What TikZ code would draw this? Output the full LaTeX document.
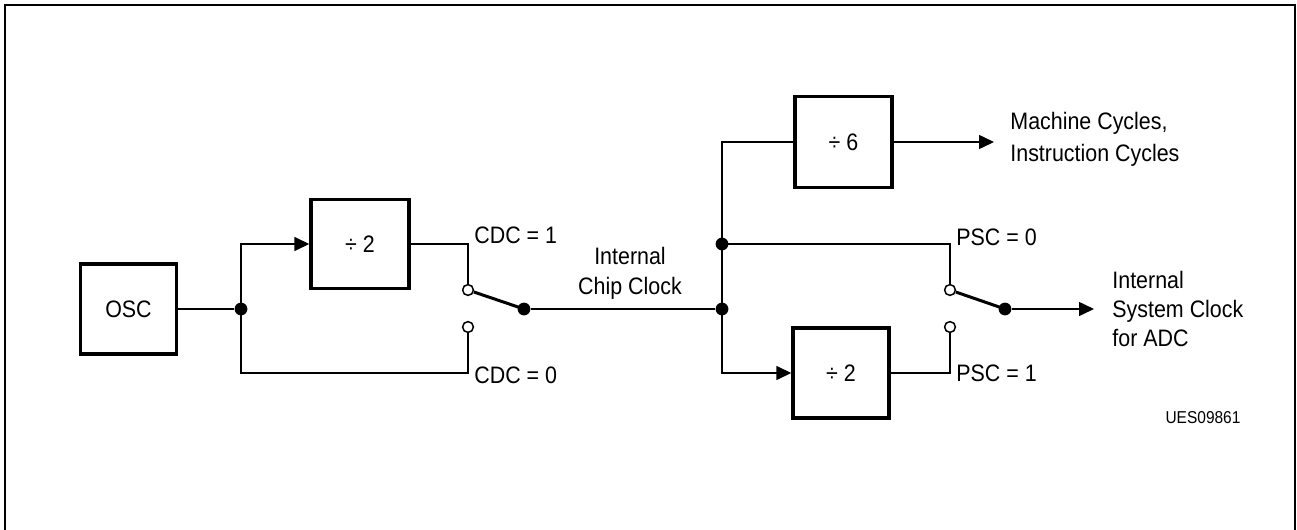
\documentclass[tikz,border=0pt]{standalone}
\usepackage{fontspec}
\setmainfont{Liberation Sans}[FakeStretch=0.9]
\usetikzlibrary{arrows.meta}
\begin{document}
\begin{tikzpicture}[x=0.5pt,y=-0.5pt,
  every node/.style={font=\fontsize{11.9}{15}\selectfont},
  blk/.style={draw,line width=1.7pt,inner sep=0pt},
  wire/.style={line width=0.75pt},
  arr/.style={wire,-{Triangle[length=7.5pt,width=7pt]}},
  jdot/.style={circle,fill,inner sep=0pt,minimum size=6.4pt},
  odot/.style={circle,draw,fill=white,line width=0.75pt,inner sep=0pt,minimum size=5.4pt},
  blade/.style={line width=1.5pt},
  lbl/.style={inner sep=0pt,anchor=west},
  frame/.style={line width=1.4pt}]
\useasboundingbox (0,0) rectangle (1297,530);
\draw[frame] (5,530) -- (5,5) -- (1295,5) -- (1295,530);

% blocks
\node[blk,minimum width=48pt,minimum height=45pt] (osc) at (128.5,309) {OSC};
\node[blk,minimum width=49pt,minimum height=44.5pt] (diva) at (360,244) {÷ 2};
\node[blk,minimum width=48.5pt,minimum height=45.5pt] (divs) at (843.5,142) {÷ 6};
\node[blk,minimum width=48pt,minimum height=45pt] (divb) at (841,373) {÷ 2};

% junctions and switches
\node[jdot] (j1) at (241,309) {};
\node[odot] (s1a) at (468,290) {};
\node[odot] (s1b) at (468,327) {};
\node[jdot] (s1c) at (524,309) {};
\node[jdot] (j2) at (722,309) {};
\node[jdot] (j3) at (722,244) {};
\node[odot] (s2a) at (950,290) {};
\node[odot] (s2b) at (950,327) {};
\node[jdot] (s2c) at (1005,309) {};
\coordinate (c0) at (468,373);
\coordinate (out1) at (994,142);
\coordinate (out2) at (1094,309);

% connectors
\draw[wire] (osc.east) -- (j1);
\draw[arr] (j1.center) |- (diva.west);
\draw[wire] (diva.east) -| (s1a.north);
\draw[wire] (j1.center) |- (c0) -- (s1b.south);
\draw[blade] (s1a) -- (s1c.center);
\draw[wire] (s1c) -- (j2);
\draw[wire] (j2.center) -- (j3.center);
\draw[wire] (j3.center) |- (divs.west);
\draw[arr] (j2.center) |- (divb.west);
\draw[arr] (divs.east) -- (out1);
\draw[wire] (j3.center) -| (s2a.north);
\draw[wire] (divb.east) -| (s2b.south);
\draw[blade] (s2a) -- (s2c.center);
\draw[arr] (s2c) -- (out2);

% labels
\node[lbl] (l1) at (474,235) {CDC = 1};
\node[lbl] (l0) at (474,375) {CDC = 0};
\node[inner sep=0pt,align=center] (icc) at (630,273) {Internal\\Chip Clock};
\node[lbl,align=left,font=\fontsize{11.9}{16}\selectfont] (mc) at (1010,139) {Machine Cycles,\\Instruction Cycles};
\node[lbl] (p0) at (956,237) {PSC = 0};
\node[lbl] (p1) at (956,373) {PSC = 1};
\node[lbl,align=left,font=\fontsize{11.9}{14.5}\selectfont] (isc) at (1112,309) {Internal\\System Clock\\for ADC};
\node[inner sep=0pt,font=\fontsize{8.6}{10}\selectfont] (ues) at (1203,418) {UES09861};
\end{tikzpicture}
\end{document}
